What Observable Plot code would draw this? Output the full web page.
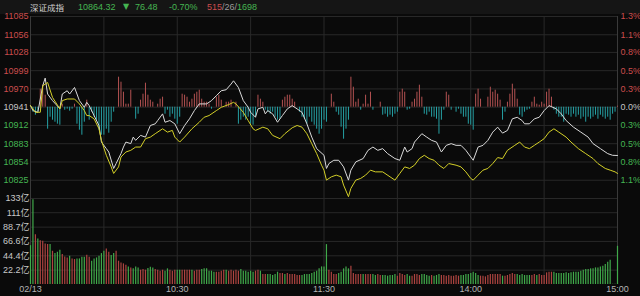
<!DOCTYPE html>
<html><head><meta charset="utf-8">
<script src="https://cdn.jsdelivr.net/npm/d3@7"></script>
<script src="https://cdn.jsdelivr.net/npm/@observablehq/plot@0.6"></script>
<style>
html,body{margin:0;padding:0;background:#0a0a0a;}
#chart{position:relative;width:640px;height:296px;background:#0a0a0a;overflow:hidden;font-family:"Liberation Sans",Arial,"Noto Sans CJK SC",sans-serif;}
#chart svg{position:absolute;left:0;}
#header{position:absolute;left:0;top:0;width:640px;height:14px;background:#151515;font-size:9px;line-height:14px;white-space:nowrap;}
#header span{position:absolute;top:0;}
</style></head>
<body>
<div id="chart"><div id="header"></div></div>
<script>
// ---------- data ----------
const indexName = "深证成指";
const lastPrice = "10864.32";
const changeAbs = "76.48";
const changePct = "-0.70%";
const breadthCounts = ["515", "26", "1698"];

const priceDomain = [10796, 11085];
const priceTicks = [11085, 11056, 11028, 10999, 10970, 10941, 10912, 10883, 10854, 10825];
const pctTicks = ["1.3%", "1.1%", "0.8%", "0.5%", "0.3%", "0.0%", "0.3%", "0.5%", "0.8%", "1.1%"];
const prevCloseTick = 10941;

const volTicks = [22.2, 44.4, 66.6, 88.7, 111, 133];
const volTickLabels = ["22.2亿", "44.4亿", "66.6亿", "88.7亿", "111亿", "133亿"];

const timeTicks = [0, 60, 120, 180, 240];
const timeLabels = ["02/13", "10:30", "11:30", "14:00", "15:00"];
const gridMinutes = [30, 60, 90, 120, 150, 180, 210];

// white line (index), minute index -> price
const whiteMin = [0,1,3,5,6,7,9,12,13,15,16,18,19,20,22,23,24,26,28,29,31,32,34,35,37,38,39,41,42,43,45,47,49,51,52,54,55,57,59,61,63,65,67,69,72,74,76,78,80,82,83,85,86,87,89,90,92,93,95,96,97,99,101,103,105,107,109,111,113,115,117,120,121,122,124,126,128,130,131,133,136,138,140,142,144,146,149,151,153,154,156,157,160,162,164,166,168,170,172,174,176,178,180,181,183,185,187,189,191,193,195,197,199,201,202,204,206,208,210,212,215,217,219,222,225,228,230,233,236,238,240];
const whiteVal = [10943.5,10935.6,10932.9,10975.0,10987.2,10961.9,10951.4,10938.7,10961.9,10967.1,10961.9,10972.3,10961.9,10951.4,10940.8,10948.7,10943.5,10927.7,10911.9,10885.6,10875.2,10869.8,10843.7,10851.5,10867.3,10877.7,10885.6,10883.1,10893.5,10888.3,10896.2,10893.5,10911.9,10914.6,10919.8,10930.4,10917.1,10919.8,10914.6,10898.9,10911.9,10922.5,10935.6,10946.2,10946.2,10951.4,10959.3,10967.1,10968.7,10977.7,10982.9,10972.3,10961.9,10951.4,10940.8,10932.9,10925.0,10938.3,10940.8,10930.4,10935.6,10930.4,10917.1,10927.7,10938.3,10943.5,10938.3,10932.9,10914.6,10893.5,10875.2,10864.6,10843.7,10851.5,10856.7,10856.7,10846.2,10825.2,10841.0,10854.1,10859.4,10872.5,10877.7,10872.5,10875.2,10867.3,10859.4,10856.7,10877.7,10869.8,10875.2,10885.6,10898.9,10893.5,10888.3,10885.6,10869.8,10880.4,10883.1,10880.4,10880.4,10872.5,10861.9,10856.7,10877.7,10880.4,10888.3,10901.4,10909.3,10899.8,10904.1,10922.5,10925.0,10919.8,10914.6,10914.6,10922.5,10925.0,10935.6,10943.5,10938.3,10930.4,10919.8,10909.3,10901.4,10893.5,10883.1,10875.2,10867.3,10864.6,10864.3];

// yellow line, minute index -> price
const yellowMin = [0,2,4,5,7,9,12,13,15,18,20,22,23,24,26,28,29,31,33,34,36,37,39,41,43,45,47,49,51,54,56,58,59,61,63,66,69,71,73,76,78,81,83,84,87,89,91,92,95,97,99,102,104,107,109,111,113,115,117,119,120,121,123,125,127,128,130,131,133,135,137,139,141,144,147,149,151,153,155,157,159,161,163,165,167,169,171,174,176,178,180,181,183,185,187,189,191,193,195,198,200,202,204,206,208,210,212,214,216,219,221,224,227,230,232,235,237,239,240];
const yellowVal = [10943.5,10932.9,10932.9,10975.0,10980.2,10956.6,10938.3,10951.4,10954.0,10954.0,10946.2,10935.6,10927.7,10927.7,10922.5,10906.7,10888.3,10864.6,10846.2,10835.8,10846.2,10861.9,10869.8,10872.5,10877.7,10877.7,10891.0,10893.5,10898.9,10906.7,10901.4,10904.1,10893.5,10885.6,10893.5,10906.7,10917.1,10925.0,10927.7,10935.6,10940.8,10945.1,10948.7,10946.2,10932.9,10919.8,10906.7,10904.1,10909.3,10906.7,10896.2,10891.0,10898.9,10908.3,10911.9,10909.3,10898.9,10883.1,10867.3,10848.9,10841.0,10825.2,10830.4,10833.1,10830.4,10817.3,10798.9,10812.1,10825.2,10827.9,10833.1,10841.0,10838.3,10838.3,10830.4,10825.2,10835.8,10846.2,10843.7,10848.9,10859.4,10864.6,10859.4,10856.7,10848.9,10843.7,10851.5,10848.9,10846.2,10838.3,10827.9,10825.2,10833.1,10841.0,10843.7,10851.5,10861.0,10859.4,10872.5,10880.4,10885.6,10877.7,10875.2,10880.4,10885.6,10891.0,10901.4,10906.7,10901.4,10893.5,10885.6,10875.2,10867.3,10859.4,10851.5,10843.7,10841.0,10838.3,10835.8];

// red / cyan bars around the 0.0% line (arbitrary units), minute index -> value
const barMin = [1,2,3,4,5,6,7,8,9,10,11,12,13,14,15,16,17,18,19,20,21,22,23,24,25,26,27,28,29,30,31,32,33,34,36,37,38,39,40,41,43,44,45,46,47,48,49,50,52,53,54,55,56,57,58,59,60,61,62,63,64,65,66,67,68,69,70,71,72,73,74,76,77,78,80,81,82,84,85,86,87,88,89,90,91,92,93,94,95,96,97,98,99,100,101,102,103,104,105,106,107,108,110,111,112,113,114,115,116,117,118,119,120,121,123,124,125,126,127,128,129,130,131,132,133,134,135,136,137,138,139,140,143,144,145,146,147,148,149,150,151,152,153,154,155,156,157,158,159,160,161,162,163,164,165,166,167,168,169,170,171,172,174,175,176,177,178,179,180,181,182,183,184,187,188,189,190,191,192,193,194,195,196,197,198,199,200,201,202,203,204,205,206,207,208,209,210,211,212,213,214,215,216,217,218,219,220,221,222,223,224,225,226,227,228,229,230,231,232,233,234,235,236,237,238,239,240];
const barVal = [-5,-8,-5,18,22,12,-22,-10,-13,-15,-17,-18,3,-3,-2,-4,-2,3,-17,-23,-28,-15,7,-13,-5,-10,-13,-23,-28,-28,-22,-26,-15,-5,30,25,15,3,3,17,-12,-7,7,13,24,12,7,5,3,8,10,-7,-3,-10,-7,-12,-17,-10,13,12,10,5,8,13,15,17,8,5,5,3,-2,10,12,7,5,5,7,5,-17,-13,-10,-13,-10,-17,-18,-10,12,8,5,-3,-5,-7,-5,-10,-13,-12,7,10,12,12,8,5,-5,-10,-12,-17,-10,-15,-18,-22,-27,-22,-13,-15,13,5,-5,-8,-20,-32,-22,-13,30,20,5,8,-3,3,12,3,15,-3,5,-8,-7,-10,-8,-10,-7,-5,15,18,15,-3,-2,5,8,15,22,10,-7,-8,-5,-10,-10,-12,-27,-13,-3,15,12,-3,-5,-2,-7,-10,-10,-17,-18,-23,13,18,8,10,20,15,17,13,7,-13,-5,5,13,23,18,8,-8,-10,-5,-3,-2,5,10,3,2,5,3,15,18,10,-3,-7,-10,-10,-15,-7,-8,-10,-7,-10,-8,-12,-10,-15,-10,-12,-10,-8,-12,-8,-10,-12,-10,-13,-7,-5,1];

// volume per minute (亿), and direction R (up) / G (down)
const volume = [
 60.1,131.1,77.1,70.4,67.8,66.8,62.7,61.7,61.7,51.4,
 47.8,49.9,52.9,46.3,42.7,41.1,43.7,39.6,38.6,39.6,
 39.6,42.1,42.1,45.2,42.1,36.0,39.6,41.1,43.7,47.8,
 51.4,55.0,49.9,44.7,47.8,51.4,36.0,33.4,31.9,29.8,
 27.2,25.7,24.2,27.2,25.7,22.1,23.1,22.1,24.7,26.7,
 25.7,23.1,22.1,20.6,22.1,20.6,24.2,22.1,20.6,22.1,
 22.1,22.1,22.1,22.1,22.1,22.1,22.1,20.6,22.1,22.1,
 23.1,24.2,24.2,20.6,20.6,19.0,19.0,19.0,20.6,22.1,
 22.1,20.6,22.1,20.6,22.1,20.6,23.1,20.6,20.6,19.0,
 20.6,19.0,20.6,22.1,20.6,15.4,15.4,15.4,15.4,13.9,
 15.4,19.0,17.0,17.0,15.4,17.0,15.4,15.4,15.4,13.9,
 13.9,13.9,15.4,15.4,15.4,17.0,19.0,20.6,24.2,27.2,
 27.2,
 61.7,22.1,19.0,15.4,15.4,17.0,19.0,24.2,27.2,24.2,
 28.3,17.0,15.4,15.4,15.4,15.4,15.4,15.4,15.4,15.4,
 13.9,15.4,13.9,13.9,13.9,12.9,13.9,13.9,15.4,12.9,
 17.0,15.4,13.9,15.4,12.9,12.9,15.4,15.4,13.9,15.4,
 15.4,13.9,12.9,13.9,12.9,13.9,15.4,13.9,13.9,12.9,
 13.9,12.9,12.9,13.9,12.9,13.9,13.9,15.4,15.4,17.0,
 19.0,17.0,13.9,12.9,12.9,11.8,13.9,15.4,15.4,15.4,
 15.4,15.4,12.9,12.9,13.9,15.4,17.0,15.4,15.4,13.9,
 15.4,13.9,13.9,13.9,13.9,15.4,13.9,15.4,13.9,13.9,
 18.0,19.0,19.0,19.0,17.0,17.0,17.0,17.0,18.0,17.0,
 18.0,19.0,19.0,19.0,20.6,22.1,23.1,23.1,24.2,24.2,
 25.7,25.7,27.2,28.3,30.8,34.4,37.5,0.5,0.5,59.1];
const volDir =
 "GGRGRRRRGR" + "GGGRRRGRRG" + "GGGRRGGGGG" + "GRRGGRRRRR" +
 "GRGGGRRRGG" + "GRRRRGGRRR" + "GGRRRRGRRR" + "GGGGGGRRRR" +
 "GRRRRRGGGG" + "GGRRGRRGGG" + "GGRRGRRRRR" + "RGGGGGGGGG" +
 "GGRRRRGGGG" + "GRRRRRGRRR" + "GGRRGGGGGG" + "RRRRGGRRRR" +
 "GGGGRGGGRR" + "RRRRRRGGGG" + "GGGGRRRRRR" + "RRRGRRRRRG" +
 "GGGGGRRGRR" + "RRRRGGGGGG" + "GGGGGGGGGG" + "GGGGGGGGGG" + "G";

// ---------- styles ----------
const C = {
  grid: "#282828", frame: "#3a3a3a",
  red: "#cc4d4d", green: "#45b552", grey: "#c4c4c4",
  white: "#dadada", yellow: "#d4d028",
  barRed: "#b45252", barCyan: "#25a0a4",
  volRed: "#ad4440", volGreen: "#40a94a",
  label: "#c8c8c8", time: "#b4b4b4"
};
const FONT = "'Liberation Sans', Arial, 'Noto Sans CJK SC', sans-serif";
const chart = document.getElementById("chart");

// header
const header = document.getElementById("header");
function addSpan(text, left, color, extra) {
  const s = document.createElement("span");
  s.textContent = text; s.style.left = left + "px"; s.style.color = color;
  if (extra) Object.assign(s.style, extra);
  header.appendChild(s);
}
addSpan(indexName, 30, "#d2d2d2", {fontFamily: "'Noto Sans CJK SC', sans-serif", fontSize: "8.5px"});
addSpan(lastPrice, 78, C.green);
addSpan("▼", 123, C.green, {fontFamily: "'DejaVu Sans', sans-serif", fontSize: "8px"});
addSpan(changeAbs, 135, C.green);
addSpan(changePct, 169, C.green);
const bc = document.createElement("span");
bc.style.left = "207px";
bc.innerHTML = `<span style="position:static;color:${C.red}">${breadthCounts[0]}</span><span style="position:static;color:#9a9a9a">/${breadthCounts[1]}/</span><span style="position:static;color:${C.green}">${breadthCounts[2]}</span>`;
header.appendChild(bc);

const common = {
  width: 640, marginLeft: 30, marginRight: 23,
  x: {domain: [0, 240], axis: null},
  color: {type: "identity"},
  style: {background: "transparent", fontFamily: FONT, fontSize: "9px", overflow: "visible"}
};
function place(svg, top) {
  svg.style.position = "absolute";
  svg.style.top = top + "px";
  svg.style.left = "0px";
  chart.appendChild(svg);
}

const priceRows = priceTicks.map((p, i) => ({p, pct: pctTicks[i],
  col: p > prevCloseTick ? C.red : p < prevCloseTick ? C.green : C.grey}));

// layer 1: price grid + labels
place(Plot.plot({
  ...common, height: 200, marginTop: 16, marginBottom: 2,
  y: {domain: priceDomain, axis: null},
  marks: [
    Plot.ruleY(priceTicks, {stroke: C.grid}),
    Plot.ruleX(gridMinutes, {stroke: C.grid}),
    Plot.ruleX([0, 240], {stroke: C.frame}),
    Plot.ruleY([priceDomain[0]], {stroke: C.frame}),
    Plot.text(priceRows, {x: 0, y: "p", text: d => String(d.p), textAnchor: "end", dx: -2, fill: "col"}),
    Plot.text(priceRows, {x: 240, y: "p", text: "pct", textAnchor: "start", dx: 3, fill: "col"})
  ]
}), 0);

// layer 2: red/cyan bars
const barRows = barMin.map((m, i) => ({m, v: barVal[i]}));
place(Plot.plot({
  ...common, height: 200, marginTop: 16, marginBottom: 2,
  y: {domain: [-91.3, 90.7], axis: null},
  marks: [
    Plot.ruleX(barRows, {x: "m", y1: 0, y2: "v", stroke: d => d.v >= 0 ? C.barRed : C.barCyan, strokeWidth: 1})
  ]
}), 0);

// layer 3: lines
const whiteRows = whiteMin.map((m, i) => ({m, p: whiteVal[i]}));
const yellowRows = yellowMin.map((m, i) => ({m, p: yellowVal[i]}));
place(Plot.plot({
  ...common, height: 200, marginTop: 16, marginBottom: 2,
  y: {domain: priceDomain, axis: null},
  marks: [
    Plot.line(whiteRows, {x: "m", y: "p", stroke: C.white, strokeWidth: 1}),
    Plot.line(yellowRows, {x: "m", y: "p", stroke: C.yellow, strokeWidth: 1})
  ]
}), 0);

// volume panel
const volRows = volume.map((v, m) => ({m, v, col: volDir[m] === "R" ? C.volRed : C.volGreen}));
const volLabelRows = volTicks.map((v, i) => ({v, t: volTickLabels[i]}));
const timeRows = timeTicks.map((m, i) => ({m, t: timeLabels[i]}));
place(Plot.plot({
  ...common, height: 106, marginTop: 8, marginBottom: 12,
  y: {domain: [0, 133], axis: null},
  marks: [
    Plot.ruleY(volTicks, {stroke: C.grid}),
    Plot.ruleX(gridMinutes, {stroke: C.grid}),
    Plot.ruleX([0, 240], {stroke: C.frame}),
    Plot.ruleX(volRows, {x: "m", y1: 0, y2: "v", stroke: "col", strokeWidth: 1.2}),
    Plot.text(volLabelRows, {x: 0, y: "v", text: "t", textAnchor: "end", dx: -1, fill: C.label}),
    Plot.text(timeRows, {x: "m", text: "t", frameAnchor: "bottom", dy: 7, fill: C.time})
  ]
}), 190);
</script>
</body></html>
